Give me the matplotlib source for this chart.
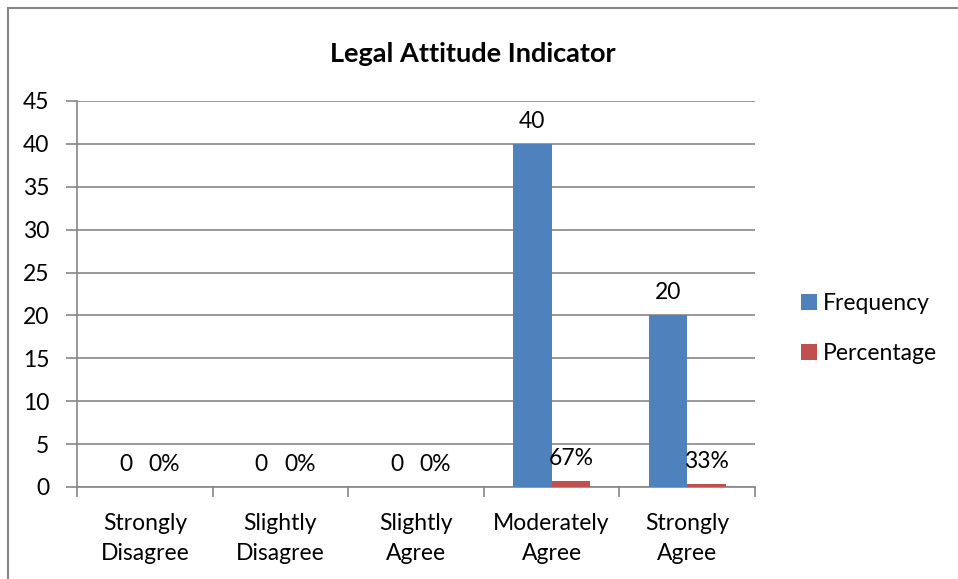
import matplotlib.pyplot as plt
import numpy as np
from matplotlib.patches import Rectangle

plt.rcParams['font.family'] = ['Lato', 'DejaVu Sans']

categories = ["Strongly\nDisagree", "Slightly\nDisagree", "Slightly\nAgree", "Moderately\nAgree", "Strongly\nAgree"]
frequency = [0, 0, 0, 40, 20]
percentage = [0.0, 0.0, 0.0, 0.67, 0.33]
pct_labels = ["0%", "0%", "0%", "67%", "33%"]

blue = '#4F81BD'
red = '#C0504D'
grey = '#868686'
fs = 16.5

fig = plt.figure(figsize=(9.58, 5.79), dpi=100)
ax = fig.add_axes([0.0804, 0.1589, 0.7077, 0.6667])

# chart frame
fig.patches.append(Rectangle((8 / 958, -0.1), 1.2, 1 - 8 / 579 + 0.1, transform=fig.transFigure,
                             fill=False, edgecolor=grey, linewidth=1.5))

x = np.arange(len(categories))
w = 0.285
b1 = ax.bar(x - w / 2, frequency, w, color=blue, label='Frequency', zorder=3)
b2 = ax.bar(x + w / 2, percentage, w, color=red, label='Percentage', zorder=3)

for rect, v in zip(b1, frequency):
    ax.text(rect.get_x() + rect.get_width() / 2, v + 1.4, str(v), ha='center', va='bottom', fontsize=fs)
for rect, v, s in zip(b2, percentage, pct_labels):
    ax.text(rect.get_x() + rect.get_width() / 2, v + 1.4, s, ha='center', va='bottom', fontsize=fs)

ax.set_xlim(-0.5, len(categories) - 0.5)
ax.set_ylim(0, 45)
ax.set_yticks(range(0, 46, 5))
ax.yaxis.grid(True, color=grey, linewidth=1.2, zorder=0)
ax.set_axisbelow(True)

ax.set_xticks(x)
ax.set_xticklabels(categories, fontsize=fs, linespacing=1.5)
ax.tick_params(axis='x', length=0, pad=19)
ax.set_xticks(np.arange(-0.5, len(categories)), minor=True)
ax.tick_params(axis='x', which='minor', length=7, color=grey, width=1.2)
ax.tick_params(axis='y', length=8, color=grey, width=1.2, labelsize=fs, pad=12)

for s in ['top', 'right']:
    ax.spines[s].set_visible(False)
for s in ['left', 'bottom']:
    ax.spines[s].set_color(grey)
    ax.spines[s].set_linewidth(1.2)

fig.text(0.494, 0.907, 'Legal Attitude Indicator', ha='center', va='center', fontsize=19.5, fontweight='bold')

fig.legend(handles=[b1, b2], loc='center left', bbox_to_anchor=(0.815, 0.433), frameon=False,
           fontsize=fs, handlelength=0.7, handleheight=0.7, labelspacing=1.25, handletextpad=0.25)

fig.savefig('out.png', dpi=100)
